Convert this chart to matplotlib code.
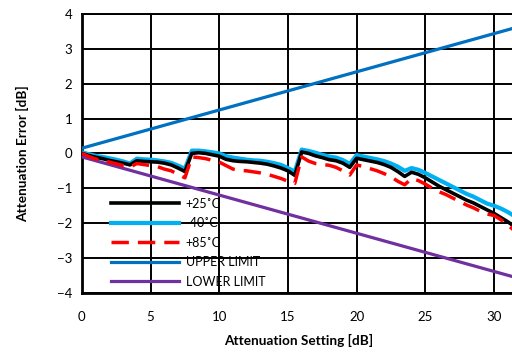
import numpy as np
import matplotlib
matplotlib.use("Agg")
import matplotlib.pyplot as plt

plt.rcParams["font.family"] = ["Lato", "DejaVu Sans"]

# attenuation setting, 0.5 dB steps
setting = np.arange(0, 32, 0.5)

err_25c = [0.00, -0.06, -0.11, -0.15, -0.20, -0.24, -0.28, -0.33,
           -0.21, -0.23, -0.24, -0.25, -0.28, -0.33, -0.42, -0.52,
           0.00, 0.02, 0.00, -0.04, -0.08, -0.17, -0.21, -0.23,
           -0.24, -0.26, -0.28, -0.31, -0.36, -0.42, -0.50, -0.63,
           0.04, 0.00, -0.07, -0.12, -0.18, -0.21, -0.28, -0.40,
           -0.14, -0.18, -0.22, -0.26, -0.32, -0.40, -0.52, -0.66,
           -0.54, -0.60, -0.70, -0.82, -0.94, -1.04, -1.14, -1.24,
           -1.34, -1.42, -1.52, -1.62, -1.72, -1.84, -1.96, -2.10]

err_m40c = [0.03, -0.02, -0.07, -0.10, -0.14, -0.18, -0.23, -0.29,
            -0.15, -0.17, -0.18, -0.20, -0.23, -0.27, -0.35, -0.44,
            0.08, 0.08, 0.06, 0.03, 0.00, -0.08, -0.12, -0.15,
            -0.18, -0.20, -0.21, -0.24, -0.28, -0.33, -0.42, -0.52,
            0.11, 0.07, 0.02, -0.04, -0.09, -0.12, -0.19, -0.30,
            -0.05, -0.09, -0.13, -0.17, -0.22, -0.29, -0.38, -0.50,
            -0.42, -0.47, -0.56, -0.66, -0.76, -0.86, -0.96, -1.06,
            -1.16, -1.24, -1.34, -1.44, -1.50, -1.58, -1.68, -1.80]

err_85c = [0.00, -0.09, -0.16, -0.20, -0.25, -0.30, -0.35, -0.39,
           -0.29, -0.32, -0.35, -0.38, -0.45, -0.50, -0.60, -0.70,
           -0.10, -0.12, -0.15, -0.20, -0.25, -0.35, -0.45, -0.49,
           -0.50, -0.53, -0.56, -0.60, -0.66, -0.72, -0.80, -0.86,
           -0.10, -0.22, -0.29, -0.32, -0.34, -0.40, -0.50, -0.62,
           -0.33, -0.38, -0.44, -0.50, -0.58, -0.67, -0.80, -0.90,
           -0.72, -0.78, -0.88, -1.00, -1.10, -1.18, -1.28, -1.38,
           -1.48, -1.56, -1.66, -1.74, -1.78, -1.90, -2.05, -2.22]

upper_limit = [0.15, 3.60]
lower_limit = [-0.10, -3.55]
limit_x = [0, 31.5]

fig = plt.figure(figsize=(5.12, 3.58), dpi=100)
ax = fig.add_axes([0.160, 0.182, 0.845, 0.779])

ax.plot(setting, err_25c, color="black", lw=2.6, label="+25˚C", zorder=4)
ax.plot(setting, err_m40c, color="#00B0F0", lw=3.0, label="-40˚C", zorder=3)
ax.plot(setting, err_85c, color="#FF0000", lw=2.5, dashes=(5, 2.6),
        label="+85˚C", zorder=5)
ax.plot(limit_x, upper_limit, color="#0070C0", lw=2.3, label="UPPER LIMIT", zorder=3)
ax.plot(limit_x, lower_limit, color="#7030A0", lw=2.3, label="LOWER LIMIT", zorder=3)

ax.set_xlim(0, 31.5)
ax.set_ylim(-4, 4)
ax.set_xticks(np.arange(0, 31, 5))
ax.set_yticks(np.arange(-4, 5, 1))
ax.grid(True, color="black", lw=1.4)
ax.tick_params(length=0, labelsize=9.5)
ax.tick_params(axis="x", pad=13)
ax.tick_params(axis="y", pad=7)
for side in ["left", "bottom"]:
    ax.spines[side].set_linewidth(2)
ax.spines["top"].set_linewidth(1.4)
ax.spines["right"].set_visible(False)

ax.set_xlabel("Attenuation Setting [dB]", fontsize=9.8, fontweight="bold", labelpad=8)
ax.set_ylabel("Attenuation Error [dB]", fontsize=9.8, fontweight="bold", labelpad=20)

leg = ax.legend(loc="lower left", bbox_to_anchor=(0.055, 0.0), frameon=False,
                fontsize=9, handlelength=5.5, handletextpad=0.5,
                labelspacing=0.6, borderaxespad=0)
for t in leg.get_texts():
    t.set_family(["Liberation Sans Narrow", "Lato", "DejaVu Sans"])

fig.savefig("out.png", dpi=100)
